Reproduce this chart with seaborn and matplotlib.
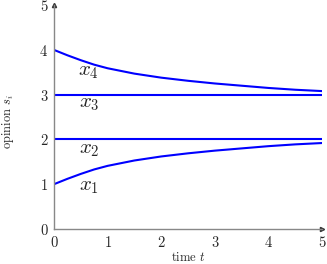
import matplotlib
matplotlib.use("Agg")
import matplotlib.pyplot as plt
import pandas as pd
import seaborn as sns

# opinion dynamics, values
time = [0.0, 0.25, 0.5, 0.75, 1.0, 1.5, 2.0, 2.5, 3.0, 3.5, 4.0, 4.5, 5.0]
x1 = [1.00, 1.12, 1.23, 1.33, 1.41, 1.53, 1.62, 1.69, 1.75, 1.80, 1.85, 1.89, 1.92]
x2 = [2.0] * len(time)
x3 = [3.0] * len(time)
x4 = [4.00, 3.88, 3.77, 3.67, 3.59, 3.47, 3.38, 3.31, 3.25, 3.20, 3.15, 3.11, 3.08]

agents = ["$x_1$", "$x_2$", "$x_3$", "$x_4$"]
label_pos = [(0.65, 0.94), (0.65, 1.76), (0.65, 2.79), (0.65, 3.50)]

df = pd.DataFrame({
    "time": time * 4,
    "opinion": x1 + x2 + x3 + x4,
    "agent": [a for a in agents for _ in time],
})

sns.set_style("white")
plt.rcParams["font.family"] = "serif"
plt.rcParams["font.serif"] = ["cmr10", "DejaVu Serif"]
plt.rcParams["mathtext.fontset"] = "cm"
plt.rcParams["axes.formatter.use_mathtext"] = True

fig = plt.figure(figsize=(3.27, 2.64), dpi=100)
ax = fig.add_axes([0.165, 0.1326, 0.82, 0.848])

sns.lineplot(data=df, x="time", y="opinion", units="agent", estimator=None,
             color="#0000ff", linewidth=1.5, ax=ax)

for name, (tx, ty) in zip(agents, label_pos):
    ax.text(tx, ty, name, fontsize=15, ha="center", va="center")

ax.set_xlim(0, 5)
ax.set_ylim(0, 5)
ax.set_xticks(range(6))
ax.set_yticks(range(6))
ax.set_xlabel("time $t$", fontsize=9)
ax.set_ylabel("opinion $s_i$", fontsize=9)
ax.xaxis.set_label_coords(0.5, -0.098)
ax.yaxis.set_label_coords(-0.14, 0.48)
ax.tick_params(labelsize=10.5, direction="inout", length=4, width=0.6,
               color="#888888", pad=2)

for side in ["top", "right"]:
    ax.spines[side].set_visible(False)
for side in ["left", "bottom"]:
    ax.spines[side].set_color("#888888")
    ax.spines[side].set_linewidth(1.0)

# arrow heads on the axes
ax.plot(1, 0, ">", color="#333333", markersize=3, transform=ax.transAxes, clip_on=False)
ax.plot(0, 1, "^", color="#333333", markersize=3, transform=ax.transAxes, clip_on=False)

fig.savefig("out.png", dpi=100)
